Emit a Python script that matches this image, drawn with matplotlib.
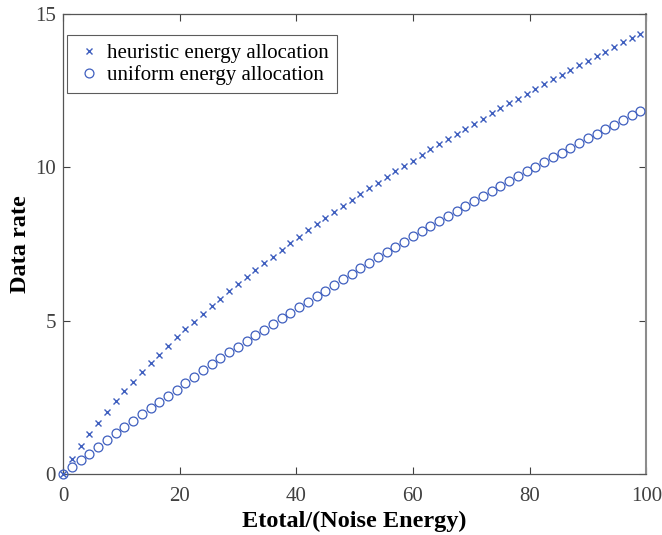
import matplotlib.pyplot as plt
import numpy as np

plt.rcParams['font.family'] = ['Liberation Serif', 'DejaVu Serif']

# sampled energy ratio (x axis)
etotal = [0, 1.5, 3, 4.5, 6, 7.5, 9, 10.5, 12, 13.5, 15, 16.5, 18, 19.5, 21, 22.5,
          24, 25.5, 27, 28.5, 30, 31.5, 33, 34.5, 36, 37.5, 39, 40.5, 42, 43.5, 45,
          46.5, 48, 49.5, 51, 52.5, 54, 55.5, 57, 58.5, 60, 61.5, 63, 64.5, 66, 67.5,
          69, 70.5, 72, 73.5, 75, 76.5, 78, 79.5, 81, 82.5, 84, 85.5, 87, 88.5, 90,
          91.5, 93, 94.5, 96, 97.5, 99]

heuristic = [0, 0.49, 0.92, 1.30, 1.67, 2.02, 2.37, 2.70, 3.01, 3.32, 3.61, 3.89,
             4.17, 4.46, 4.72, 4.97, 5.23, 5.48, 5.72, 5.96, 6.19, 6.42, 6.65, 6.87,
             7.09, 7.31, 7.52, 7.73, 7.94, 8.14, 8.35, 8.55, 8.75, 8.94, 9.12, 9.31,
             9.50, 9.69, 9.87, 10.05, 10.22, 10.39, 10.58, 10.76, 10.92, 11.09, 11.25,
             11.42, 11.59, 11.76, 11.93, 12.08, 12.24, 12.40, 12.56, 12.71, 12.87,
             13.02, 13.18, 13.33, 13.48, 13.63, 13.77, 13.93, 14.07, 14.21, 14.36]

uniform = [0, 0.22, 0.45, 0.66, 0.89, 1.10, 1.33, 1.53, 1.74, 1.95, 2.15, 2.35,
           2.55, 2.75, 2.96, 3.17, 3.38, 3.59, 3.78, 3.97, 4.15, 4.34, 4.52, 4.71,
           4.89, 5.08, 5.26, 5.45, 5.62, 5.81, 5.98, 6.16, 6.35, 6.51, 6.70, 6.87,
           7.06, 7.23, 7.40, 7.58, 7.75, 7.92, 8.09, 8.25, 8.41, 8.58, 8.74, 8.90,
           9.07, 9.24, 9.40, 9.56, 9.71, 9.87, 10.02, 10.18, 10.33, 10.48, 10.63,
           10.78, 10.94, 11.09, 11.24, 11.39, 11.55, 11.70, 11.85]

blue = '#3f5fbf'

fig = plt.figure(figsize=(6.62, 5.35), dpi=100)
ax = fig.add_axes([0.0952, 0.114, 0.8810, 0.860])

ax.plot(etotal, heuristic, 'x', color=blue, ms=4.6, mew=1.0, clip_on=False,
        zorder=3, label='heuristic energy allocation')
ax.plot(etotal, uniform, 'o', color=blue, mfc='none', ms=6.4, mew=0.9, clip_on=False,
        zorder=3, label='uniform energy allocation')

ax.set_xlim(0, 100)
ax.set_ylim(0, 15)
ax.set_xticks([0, 20, 40, 60, 80, 100])
ax.set_yticks([0, 5, 10, 15])

# MATLAB style box with inward ticks
ax.tick_params(direction='in', top=True, right=True, labelsize=15, colors='#404040',
               length=5, width=0.8)
ax.tick_params(axis='x', pad=9)
ax.tick_params(axis='y', pad=5)
for s in ax.spines.values():
    s.set_color('#555555')
    s.set_linewidth(0.9)
ax.spines['right'].set_color('#8c8c8c')
ax.spines['right'].set_linewidth(1.5)

ax.set_xlabel('Etotal/(Noise Energy)', fontsize=17.5, fontweight='bold', labelpad=4)
ax.set_ylabel('Data rate', fontsize=17.5, fontweight='bold', labelpad=3)

leg = ax.legend(loc='upper left', bbox_to_anchor=(0.0063, 0.954), borderaxespad=0,
                fontsize=15, frameon=True, fancybox=False, edgecolor='#333333',
                handletextpad=0.2, borderpad=0.4, labelspacing=0.1, handlelength=1.34)
leg.get_frame().set_linewidth(0.8)

plt.savefig('out.png', dpi=100)
